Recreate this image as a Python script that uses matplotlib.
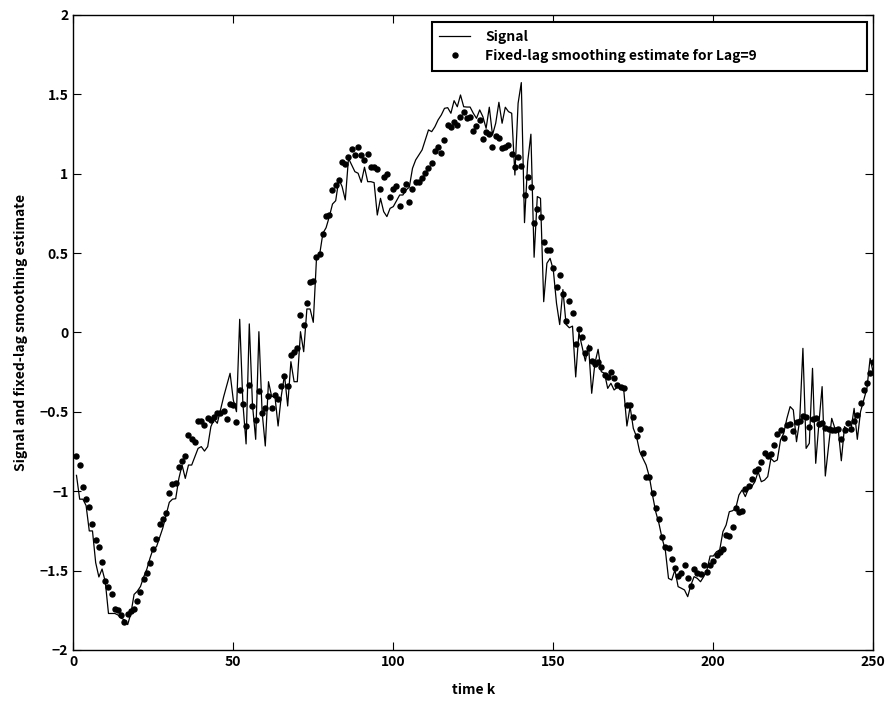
import numpy as np
import matplotlib
matplotlib.use("Agg")
import matplotlib.pyplot as plt

# =========================
# 1. DATA
# =========================
signal = [
    -0.90, -1.05, -1.05, -1.09, -1.25, -1.25, -1.45, -1.54, -1.49, -1.57,
    -1.77, -1.77, -1.77, -1.78, -1.80, -1.81, -1.84, -1.77, -1.65, -1.63,
    -1.60, -1.54, -1.49, -1.42, -1.36, -1.35, -1.29, -1.23, -1.15, -1.07,
    -1.05, -1.047, -0.919, -0.835, -0.919, -0.835, -0.835, -0.782, -0.730, -0.719,
    -0.747, -0.719, -0.593, -0.547, -0.572, -0.488, -0.404, -0.331, -0.257, -0.425,
    -0.499, 0.083, -0.446, -0.702, 0.054, -0.457, -0.673, 0.005, -0.499, -0.715,
    -0.310, -0.404, -0.40, -0.589, -0.400, -0.268, -0.463, -0.184, -0.310, -0.310,
    0.005, -0.121, 0.148, 0.148, 0.064, 0.467, 0.493, 0.625, 0.660, 0.729,
    0.809, 0.830, 0.965, 0.919, 0.835, 1.097, 1.055, 1.013, 1.003, 0.946,
    1.041, 0.950, 0.950, 0.944, 0.740, 0.845, 0.761, 0.730, 0.782, 0.793,
    0.830, 0.866, 0.866, 0.898, 0.915, 1.034, 1.087, 1.118, 1.150, 1.213,
    1.276, 1.265, 1.296, 1.339, 1.370, 1.412, 1.416, 1.381, 1.460, 1.422,
    1.496, 1.422, 1.42, 1.42, 1.381, 1.349, 1.402, 1.359, 1.286, 1.419,
    1.244, 1.318, 1.450, 1.318, 1.419, 1.391, 1.381, 0.992, 1.444, 1.574,
    0.692, 1.076, 1.249, 0.474, 0.856, 0.845, 0.194, 0.436, 0.467, 0.394,
    0.184, 0.05, 0.27, 0.05, 0.03, 0.04, -0.28, 0.00, -0.09, -0.18,
    -0.079, -0.383, -0.194, -0.106, -0.247, -0.257, -0.352, -0.320, -0.362, -0.345,
    -0.352, -0.358, -0.589, -0.467, -0.604, -0.656, -0.751, -0.793, -0.835, -0.908,
    -1.024, -1.129, -1.202, -1.297, -1.370, -1.549, -1.559, -1.496, -1.601, -1.611,
    -1.622, -1.664, -1.591, -1.538, -1.549, -1.570, -1.538, -1.496, -1.408, -1.408,
    -1.381, -1.370, -1.255, -1.213, -1.129, -1.123, -1.108, -1.024, -0.992, -1.034,
    -0.982, -0.971, -0.940, -0.877, -0.940, -0.93, -0.908, -0.793, -0.814, -0.803,
    -0.677, -0.635, -0.541, -0.467, -0.488, -0.688, -0.551, -0.100, -0.730, -0.698,
    -0.226, -0.824, -0.572, -0.341, -0.904, -0.719, -0.541, -0.604, -0.604, -0.808,
    -0.593, -0.614, -0.614, -0.478, -0.673, -0.499, -0.425, -0.352, -0.163, -0.257,
]

estimate = [
    -0.778, -0.835, -0.971, -1.051, -1.097, -1.208, -1.307, -1.353, -1.446, -1.567,
    -1.603, -1.647, -1.742, -1.745, -1.780, -1.826, -1.771, -1.756, -1.742, -1.689,
    -1.635, -1.555, -1.513, -1.450, -1.364, -1.303, -1.208, -1.175, -1.135, -1.013,
    -0.956, -0.950, -0.845, -0.809, -0.778, -0.648, -0.673, -0.692, -0.555, -0.555,
    -0.581, -0.537, -0.551, -0.530, -0.505, -0.509, -0.494, -0.543, -0.450, -0.457,
    -0.564, -0.362, -0.452, -0.589, -0.331, -0.463, -0.551, -0.367, -0.505, -0.476,
    -0.398, -0.474, -0.396, -0.417, -0.337, -0.274, -0.335, -0.144, -0.123, -0.100,
    0.108, 0.049, 0.188, 0.318, 0.324, 0.474, 0.493, 0.620, 0.736, 0.738,
    0.898, 0.929, 0.961, 1.076, 1.059, 1.105, 1.156, 1.116, 1.167, 1.118,
    1.085, 1.126, 1.041, 1.041, 1.032, 0.906, 0.981, 0.997, 0.852, 0.902,
    0.923, 0.797, 0.898, 0.934, 0.824, 0.902, 0.946, 0.946, 0.975, 1.003,
    1.034, 1.070, 1.143, 1.170, 1.129, 1.213, 1.307, 1.296, 1.328, 1.307,
    1.359, 1.387, 1.349, 1.359, 1.271, 1.301, 1.339, 1.217, 1.265, 1.250,
    1.170, 1.238, 1.225, 1.160, 1.167, 1.183, 1.124, 1.045, 1.107, 1.051,
    0.866, 0.981, 0.915, 0.692, 0.776, 0.730, 0.568, 0.520, 0.520, 0.408,
    0.289, 0.362, 0.243, 0.070, 0.200, 0.125, -0.072, 0.020, -0.026, -0.127,
    -0.100, -0.178, -0.198, -0.184, -0.215, -0.268, -0.278, -0.249, -0.289, -0.330,
    -0.341, -0.348, -0.459, -0.457, -0.530, -0.652, -0.610, -0.761, -0.908, -0.912,
    -1.013, -1.107, -1.175, -1.290, -1.349, -1.359, -1.429, -1.486, -1.534, -1.517,
    -1.463, -1.545, -1.595, -1.492, -1.517, -1.521, -1.465, -1.507, -1.465, -1.439,
    -1.402, -1.381, -1.366, -1.276, -1.282, -1.227, -1.103, -1.133, -1.123, -0.988,
    -0.967, -0.921, -0.871, -0.858, -0.814, -0.761, -0.778, -0.765, -0.711, -0.641,
    -0.614, -0.663, -0.583, -0.576, -0.622, -0.562, -0.556, -0.526, -0.534, -0.597,
    -0.543, -0.541, -0.578, -0.568, -0.604, -0.610, -0.614, -0.614, -0.608, -0.673,
    -0.614, -0.568, -0.606, -0.559, -0.520, -0.446, -0.362, -0.320, -0.257, -0.184,
]

time_k = np.arange(1, len(signal) + 1)

x_ticks = [0, 50, 100, 150, 200, 250]
y_ticks = [-2, -1.5, -1, -0.5, 0, 0.5, 1, 1.5, 2]
y_labels = ["-2", "-1.5", "-1", "-0.5", "0", "0.5", "1", "1.5", "2"]

# =========================
# 2. STYLE
# =========================
plt.rcParams["font.family"] = ["Noto Sans CJK JP", "DejaVu Sans"]
plt.rcParams["font.weight"] = "bold"
plt.rcParams["font.size"] = 10

# =========================
# 3. PLOT
# =========================
fig = plt.figure(figsize=(8.85, 7.03), dpi=100)
ax = fig.add_axes([0.0828, 0.0754, 0.904, 0.9033])

ax.plot(time_k, signal, color="black", linewidth=0.9, label="Signal")
ax.plot(time_k, estimate, linestyle="none", marker="o", markersize=3.6,
        color="black", label="Fixed-lag smoothing estimate for Lag=9")

ax.set_xlim(0, 250)
ax.set_ylim(-2, 2)
ax.set_xticks(x_ticks)
ax.set_yticks(y_ticks)
ax.set_yticklabels([s.replace("-", "\u2212") for s in y_labels])

ax.tick_params(direction="in", length=6, width=0.8, top=True, right=True,
               labelsize=10)
for side in ax.spines.values():
    side.set_linewidth(1.0)

ax.set_xlabel("time k", fontweight="bold", labelpad=10)
ax.set_ylabel("Signal and fixed-lag smoothing estimate", fontweight="bold",
              labelpad=8)

# legend box spans x 432..867 px, top at y 22 px in the reference
leg = ax.legend(loc="upper left", bbox_to_anchor=(0.448, 0.989, 0.544, 0.0),
                mode="expand", fancybox=False, framealpha=1,
                edgecolor="black", borderpad=0.55, handlelength=2.2,
                handletextpad=1.1, labelspacing=0.4, borderaxespad=0.0)
leg.get_frame().set_linewidth(1.5)

plt.savefig("out.png", dpi=100)
